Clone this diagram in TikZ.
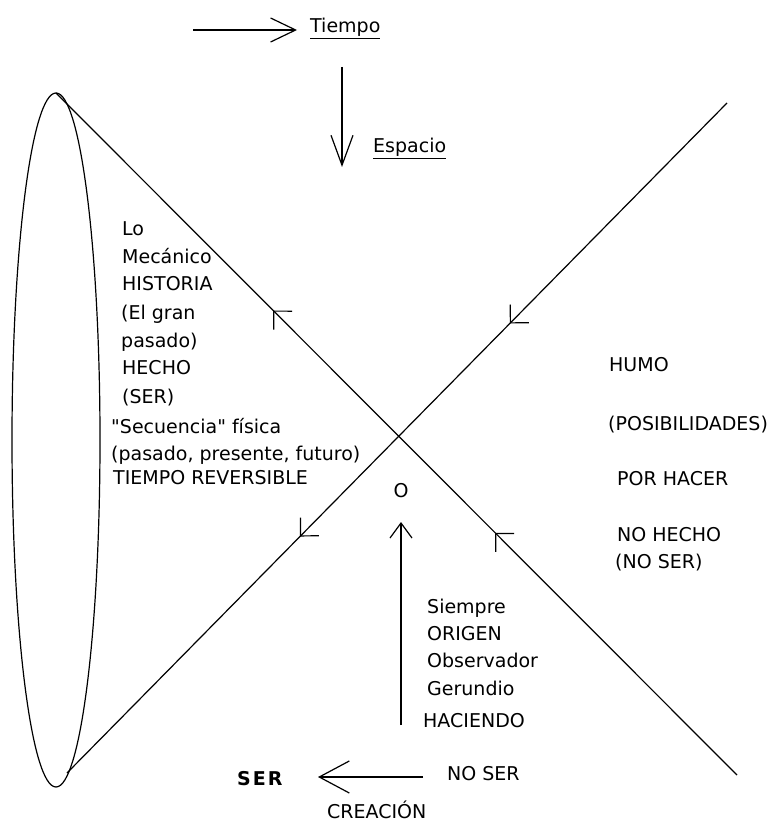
\documentclass[tikz,border=0pt]{standalone}
\usepackage{fontspec}
\newfontfamily\dvs{DejaVu Sans}
\usetikzlibrary{arrows.meta,decorations.markings}
\newcommand\fsz{\dvs\fontsize{19}{23}\selectfont}
\tikzset{
  txt/.style={inner sep=0pt, anchor=base west, font=\fsz},
  ln/.style={line width=1.2pt, black},
  onarrows/.style 2 args={postaction={decorate},
    decoration={markings,
      mark=at position #1 with {\arrowreversed{Straight Barb[length=13pt,width=26pt]}},
      mark=at position #2 with {\arrowreversed{Straight Barb[length=13pt,width=26pt]}}}}
}
\begin{document}
\begin{tikzpicture}[x=1pt,y=-1pt]
\useasboundingbox (0,0) rectangle (771,821);
\fill[white] (0,0) rectangle (771,821);

% coordinates
\coordinate (L1a) at (56,93);
\coordinate (L1b) at (737,775);
\coordinate (L2a) at (67,773);
\coordinate (L2b) at (727,103);
\coordinate (th1) at (193,30);
\coordinate (th2) at (297,30);
\coordinate (sv1) at (342,67);
\coordinate (sv2) at (342,167);
\coordinate (ov1) at (401,725);
\coordinate (ov2) at (401,522);
\coordinate (bh1) at (423,777);
\coordinate (bh2) at (318,777);

% ellipse
\draw[ln] (56,440) ellipse [x radius=44, y radius=347];

% crossing lines
\draw[ln, onarrows={0.319}{0.645}] (L1a) -- (L1b);
\draw[ln, onarrows={0.353}{0.671}] (L2a) -- (L2b);

% top labels and arrows
\node[txt] (tiempo) at (310,33) {\underline{Tiempo}};
\node[txt] (espacio) at (373,153) {\underline{Espacio}};
\draw[ln, -{Straight Barb[length=25pt,width=24pt]}] (th1) -- (th2);
\draw[ln, -{Straight Barb[length=30pt,width=22pt]}] (sv1) -- (sv2);

% left text
\node[txt] (t1) at (122,235) {Lo};
\node[txt] (t2) at (122,263) {Mecánico};
\node[txt] (t3) at (122,290) {HISTORIA};
\node[txt] (t4) at (121,319) {(El gran};
\node[txt] (t5) at (121,347) {pasado)};
\node[txt] (t6) at (122,374) {HECHO};
\node[txt] (t7) at (122,403) {(SER)};
\node[txt] (t8) at (111,433) {"Secuencia" física};
\node[txt] (t9) at (111,460) {(pasado, presente, futuro)};
\node[txt] (t10) at (113,484) {TIEMPO REVERSIBLE};

% right text
\node[txt] (r1) at (609,371) {HUMO};
\node[txt] (r2) at (608,430) {(POSIBILIDADES)};
\node[txt] (r3) at (617,485) {POR HACER};
\node[txt] (r4) at (617,541) {NO HECHO};
\node[txt] (r5) at (615,568) {(NO SER)};

% origin
\node[txt, anchor=base] (O) at (401,497) {O};
\draw[ln, -{Straight Barb[length=15pt,width=22pt]}] (ov1) -- (ov2);

\node[txt] (b1) at (427,613) {Siempre};
\node[txt] (b2) at (427,640) {ORIGEN};
\node[txt] (b3) at (427,667) {Observador};
\node[txt] (b4) at (427,695) {Gerundio};
\node[txt] (b5) at (423,727) {HACIENDO};

% bottom
\node[txt] (ser) at (237,785) {\bfseries S\kern2pt E\kern2pt R};
\node[txt] (noser) at (447,780) {NO SER};
\node[txt] (crea) at (327,818) {CREACIÓN};
\draw[ln, -{Straight Barb[length=30pt,width=32pt]}] (bh1) -- (bh2);
\end{tikzpicture}
\end{document}
